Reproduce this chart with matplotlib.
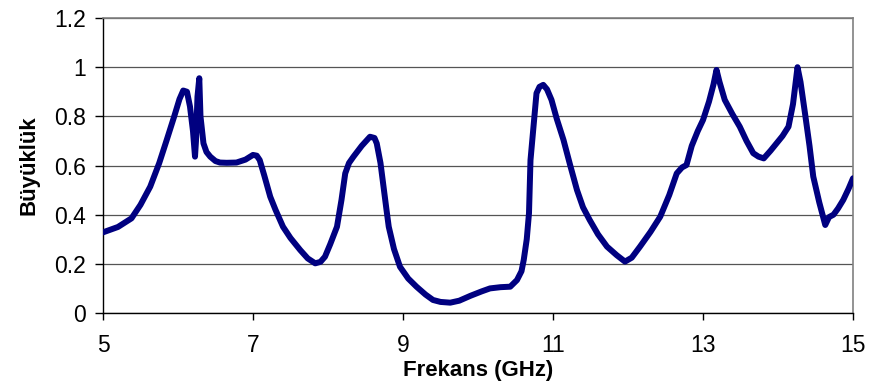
import matplotlib.pyplot as plt

plt.rcParams['font.family'] = ['Liberation Sans', 'DejaVu Sans']

# frequency (GHz) and magnitude
freq = [5.0, 5.2, 5.38, 5.5, 5.63, 5.75, 5.85, 5.95, 6.02, 6.07, 6.12, 6.16,
        6.2, 6.227, 6.24, 6.26, 6.284, 6.3, 6.34, 6.38, 6.43, 6.5, 6.56, 6.65,
        6.78, 6.9, 7.0, 7.05, 7.09, 7.15, 7.23, 7.3, 7.4, 7.5, 7.63, 7.73,
        7.83, 7.9, 7.96, 8.03, 8.12, 8.18, 8.23, 8.28, 8.34, 8.45, 8.56, 8.62,
        8.65, 8.7, 8.74, 8.78, 8.81, 8.88, 8.96, 9.07, 9.18, 9.3, 9.4, 9.5,
        9.63, 9.75, 9.9, 10.05, 10.16, 10.3, 10.43, 10.52, 10.58, 10.61, 10.65,
        10.68, 10.7, 10.74, 10.78, 10.82, 10.87, 10.92, 10.98, 11.05, 11.14,
        11.23, 11.32, 11.4, 11.49, 11.6, 11.72, 11.85, 11.96, 12.05, 12.16,
        12.3, 12.43, 12.55, 12.65, 12.72, 12.78, 12.85, 12.93, 13.0, 13.08,
        13.14, 13.18, 13.22, 13.29, 13.39, 13.49, 13.58, 13.67, 13.74, 13.81,
        13.9, 13.98, 14.06, 14.14, 14.2, 14.26, 14.3, 14.36, 14.42, 14.47,
        14.55, 14.63, 14.68, 14.74, 14.8, 14.87, 14.94, 15.0]
mag = [0.328, 0.350, 0.385, 0.440, 0.514, 0.610, 0.704, 0.800, 0.870, 0.905,
       0.900, 0.840, 0.740, 0.636, 0.700, 0.880, 0.955, 0.800, 0.690, 0.655,
       0.636, 0.618, 0.612, 0.611, 0.612, 0.624, 0.643, 0.640, 0.622, 0.560,
       0.473, 0.420, 0.351, 0.305, 0.256, 0.222, 0.202, 0.208, 0.229, 0.280,
       0.351, 0.460, 0.568, 0.610, 0.636, 0.680, 0.717, 0.712, 0.690, 0.610,
       0.514, 0.420, 0.351, 0.260, 0.188, 0.140, 0.107, 0.075, 0.053, 0.045,
       0.042, 0.050, 0.070, 0.088, 0.100, 0.105, 0.107, 0.134, 0.170, 0.216,
       0.300, 0.406, 0.622, 0.758, 0.894, 0.920, 0.928, 0.910, 0.867, 0.790,
       0.704, 0.600, 0.500, 0.430, 0.378, 0.320, 0.270, 0.235, 0.209, 0.225,
       0.270, 0.330, 0.392, 0.480, 0.568, 0.592, 0.602, 0.680, 0.740, 0.785,
       0.860, 0.930, 0.989, 0.940, 0.867, 0.810, 0.758, 0.700, 0.650, 0.636,
       0.629, 0.660, 0.690, 0.720, 0.758, 0.850, 1.000, 0.940, 0.812, 0.680,
       0.555, 0.450, 0.358, 0.390, 0.400, 0.425, 0.460, 0.505, 0.548]

x_ticks = [5, 7, 9, 11, 13, 15]
y_ticks = [0, 0.2, 0.4, 0.6, 0.8, 1.0, 1.2]
y_labels = ['0', '0.2', '0.4', '0.6', '0.8', '1', '1.2']

fig = plt.figure(figsize=(8.69, 3.89), dpi=100)
ax = fig.add_axes([0.1185, 0.1954, 0.8631, 0.7583])

ax.plot(freq, mag, color='#000080', lw=4.3, solid_capstyle='round',
        solid_joinstyle='round', zorder=3)

ax.set_xlim(5, 15)
ax.set_ylim(0, 1.2)
ax.set_xticks(x_ticks)
ax.set_yticks(y_ticks)
ax.set_yticklabels(y_labels)
ax.yaxis.grid(True, color='#555555', lw=0.9)
ax.set_axisbelow(True)

for side in ['top', 'right']:
    ax.spines[side].set_color('#808080')
    ax.spines[side].set_linewidth(1.2)
for side in ['left', 'bottom']:
    ax.spines[side].set_color('black')
    ax.spines[side].set_linewidth(1.0)

ax.tick_params(axis='y', direction='out', length=5.5, width=1, pad=7, labelsize=16.5)
ax.tick_params(axis='x', direction='out', length=5, width=1, pad=10, labelsize=16.5)

ax.set_xlabel('Frekans (GHz)', fontsize=16, fontweight='bold', labelpad=2)
ax.set_ylabel('Büyüklük', fontsize=16, fontweight='bold', labelpad=10)

fig.savefig('out.png', dpi=100)
